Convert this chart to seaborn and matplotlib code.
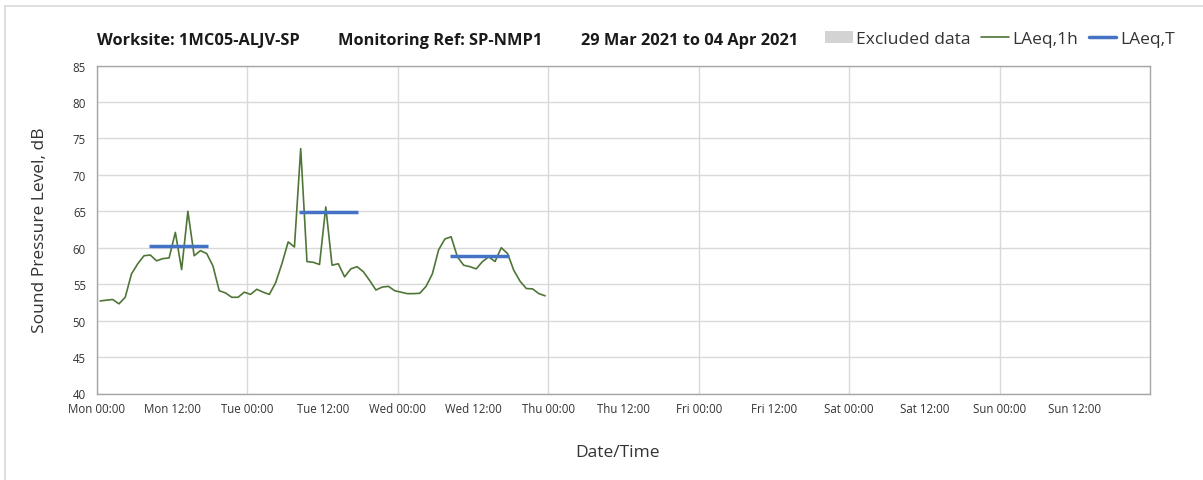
import matplotlib
matplotlib.use("Agg")
import matplotlib.pyplot as plt
import matplotlib.dates as mdates
from matplotlib.patches import Patch
from matplotlib.lines import Line2D
import pandas as pd
import seaborn as sns

# hourly LAeq,1h values (plotted at the middle of each hour), Mon 00:30 .. Wed 23:30
start_time = "2021-03-29 00:30"
laeq_1h = [
    52.7, 52.8, 52.9, 52.3, 53.2, 56.4, 57.8, 58.9, 59.0, 58.2, 58.5, 58.6,
    62.1, 57.0, 65.0, 58.9, 59.6, 59.2, 57.5, 54.1, 53.8, 53.2, 53.2, 53.9,
    53.6, 54.3, 53.9, 53.6, 55.2, 57.8, 60.8, 60.1, 73.6, 58.1, 58.0, 57.7,
    65.6, 57.6, 57.8, 56.0, 57.1, 57.4, 56.7, 55.5, 54.2, 54.6, 54.7, 54.1,
    53.9, 53.7, 53.7, 53.75, 54.7, 56.4, 59.7, 61.2, 61.5, 58.75, 57.6, 57.4,
    57.1, 58.1, 58.75, 58.1, 60.0, 59.2, 56.9, 55.4, 54.4, 54.35, 53.7, 53.4,
]

# LAeq,T daytime periods
laeq_t_start = ["2021-03-29 08:15", "2021-03-30 08:15", "2021-03-31 08:15"]
laeq_t_end = ["2021-03-29 17:40", "2021-03-30 17:40", "2021-03-31 17:40"]
laeq_t = [60.3, 64.9, 58.9]

title_parts = ["Worksite: 1MC05-ALJV-SP", "Monitoring Ref: SP-NMP1",
               "29 Mar 2021 to 04 Apr 2021"]

GREEN = "#4f7636"
BLUE = "#4472c4"
GRID = "#d9d9d9"

sns.set_theme(style="whitegrid")
plt.rcParams['font.family'] = ['Open Sans', 'DejaVu Sans']

fig = plt.figure(figsize=(12.03, 4.81), dpi=100)
ax = fig.add_axes([97 / 1203, 1 - 394.5 / 481, 1053 / 1203, 328 / 481])

df = pd.DataFrame({
    "time": pd.date_range(start_time, periods=len(laeq_1h), freq="h"),
    "level": laeq_1h,
})
sns.lineplot(data=df, x="time", y="level", color=GREEN, linewidth=1.2, ax=ax)
ax.hlines(laeq_t, pd.to_datetime(laeq_t_start), pd.to_datetime(laeq_t_end),
          color=BLUE, linewidth=2.5)

# axes / ticks
ax.set_xlim(pd.Timestamp("2021-03-29"), pd.Timestamp("2021-04-05"))
ax.set_ylim(40, 85)
ax.set_yticks(range(40, 90, 5))
ax.set_xticks(pd.date_range("2021-03-29", periods=7, freq="D"))
ax.set_xticks(pd.date_range("2021-03-29 12:00", periods=7, freq="D"), minor=True)
ax.xaxis.set_major_formatter(mdates.DateFormatter("%a %H:%M"))
ax.xaxis.set_minor_formatter(mdates.DateFormatter("%a %H:%M"))
ax.tick_params(axis="both", which="both", labelsize=8.3, colors="#333333",
               length=4, width=0.8, color="#aaaaaa")
ax.tick_params(axis="x", which="both", direction="in", pad=6)
ax.tick_params(axis="y", direction="out", pad=4)
ax.grid(True, which="major", color=GRID, linewidth=1.0)
ax.grid(False, which="minor")
for s in ax.spines.values():
    s.set_color("#a6a6a6")
    s.set_linewidth(1.0)

ax.set_xlabel("Date/Time", fontsize=12.5, color="#333333")
ax.xaxis.set_label_coords(0.494, -0.155)
ax.set_ylabel("Sound Pressure Level, dB", fontsize=12.5, color="#333333", labelpad=18)

# title, three blocks as in the original header
for txt, xpx in zip(title_parts, [97, 338, 581]):
    fig.text(xpx / 1203, 1 - 41 / 481, txt, fontsize=11.8, fontweight="bold",
             color="#1a1a1a", va="center", ha="left")

# legend
handles = [
    Patch(facecolor="#d3d3d3", edgecolor="none", label="Excluded data"),
    Line2D([], [], color=GREEN, linewidth=1.2, label="LAeq,1h"),
    Line2D([], [], color=BLUE, linewidth=2.5, label="LAeq,T"),
]
fig.legend(handles=handles, ncol=3, frameon=False, fontsize=12.5,
           loc="center right", bbox_to_anchor=(1190 / 1203, 1 - 40 / 481),
           handlelength=1.6, handletextpad=0.2, columnspacing=0.6,
           labelcolor="#333333")

# outer chart frame (left and top edges)
fig.add_artist(Line2D([5 / 1203, 5 / 1203], [0, 1 - 7 / 481], color=GRID,
                      linewidth=1.2, transform=fig.transFigure))
fig.add_artist(Line2D([5 / 1203, 1], [1 - 7 / 481, 1 - 7 / 481], color=GRID,
                      linewidth=1.2, transform=fig.transFigure))

fig.savefig("out.png", dpi=100)
